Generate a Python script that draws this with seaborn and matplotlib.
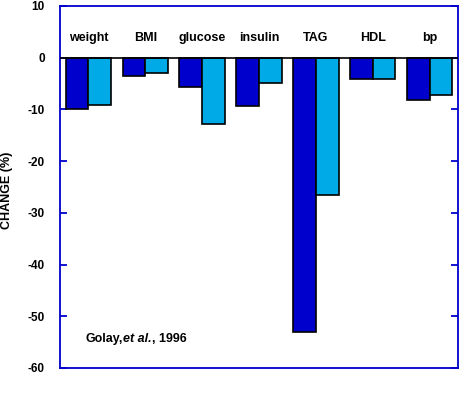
import matplotlib
matplotlib.use("Agg")
import matplotlib.pyplot as plt
import seaborn as sns
import pandas as pd

categories = ["weight", "BMI", "glucose", "insulin", "TAG", "HDL", "bp"]
series_a = [-10.0, -3.6, -5.6, -9.3, -53.0, -4.1, -8.2]
series_b = [-9.1, -2.9, -12.8, -4.9, -26.6, -4.1, -7.2]
yticks = [10, 0, -10, -20, -30, -40, -50, -60]

df = pd.DataFrame({
    "cat": categories * 2,
    "val": series_a + series_b,
    "grp": ["A"] * len(categories) + ["B"] * len(categories),
})

sns.set_theme(style="white")
plt.rcParams["font.family"] = ["Liberation Sans", "DejaVu Sans"]
plt.rcParams["text.color"] = "black"
plt.rcParams["ytick.labelcolor"] = "black"

fig = plt.figure(figsize=(4.59, 4.16), dpi=100)
ax = fig.add_axes([60 / 459, 48 / 416, 398 / 459, 362 / 416])

sns.barplot(data=df, x="cat", y="val", hue="grp", order=categories,
            palette={"A": "#0000CC", "B": "#00AAE6"}, width=0.8,
            edgecolor="black", linewidth=1.2, saturation=1, legend=False, ax=ax)

ax.set_xlim(-0.5, len(categories) - 0.5)
ax.set_ylim(-60, 10)
ax.set_yticks(yticks)
ax.set_yticklabels([str(t) for t in yticks], fontsize=8.5, fontweight="bold", color="black")
ax.set_xticks([])
ax.set_xlabel("")
ax.set_ylabel("CHANGE (%)", fontsize=9, fontweight="bold", color="black")
ax.yaxis.set_label_coords(-0.117, 0.49)
ax.axhline(0, color="black", lw=1.2, zorder=5)

for s in ax.spines.values():
    s.set_color("#0000CC")
    s.set_linewidth(1.3)
ax.tick_params(axis="y", direction="in", length=5, width=1.3, color="#0000CC",
               right=True, left=True, pad=11)

for i, c in enumerate(categories):
    ax.text(i, 3.9, c, ha="center", va="center", fontsize=9, fontweight="bold")

t1 = ax.text(-0.05, -54.4, "Golay,", fontsize=9, va="center", fontweight="bold")
t2 = ax.annotate("et al.", xy=(1, 0), xycoords=t1, va="bottom", fontsize=9,
                 fontweight="bold", fontstyle="italic")
ax.annotate(", 1996", xy=(1, 0), xycoords=t2, va="bottom", fontsize=9, fontweight="bold")

fig.savefig("out.png", dpi=100)
